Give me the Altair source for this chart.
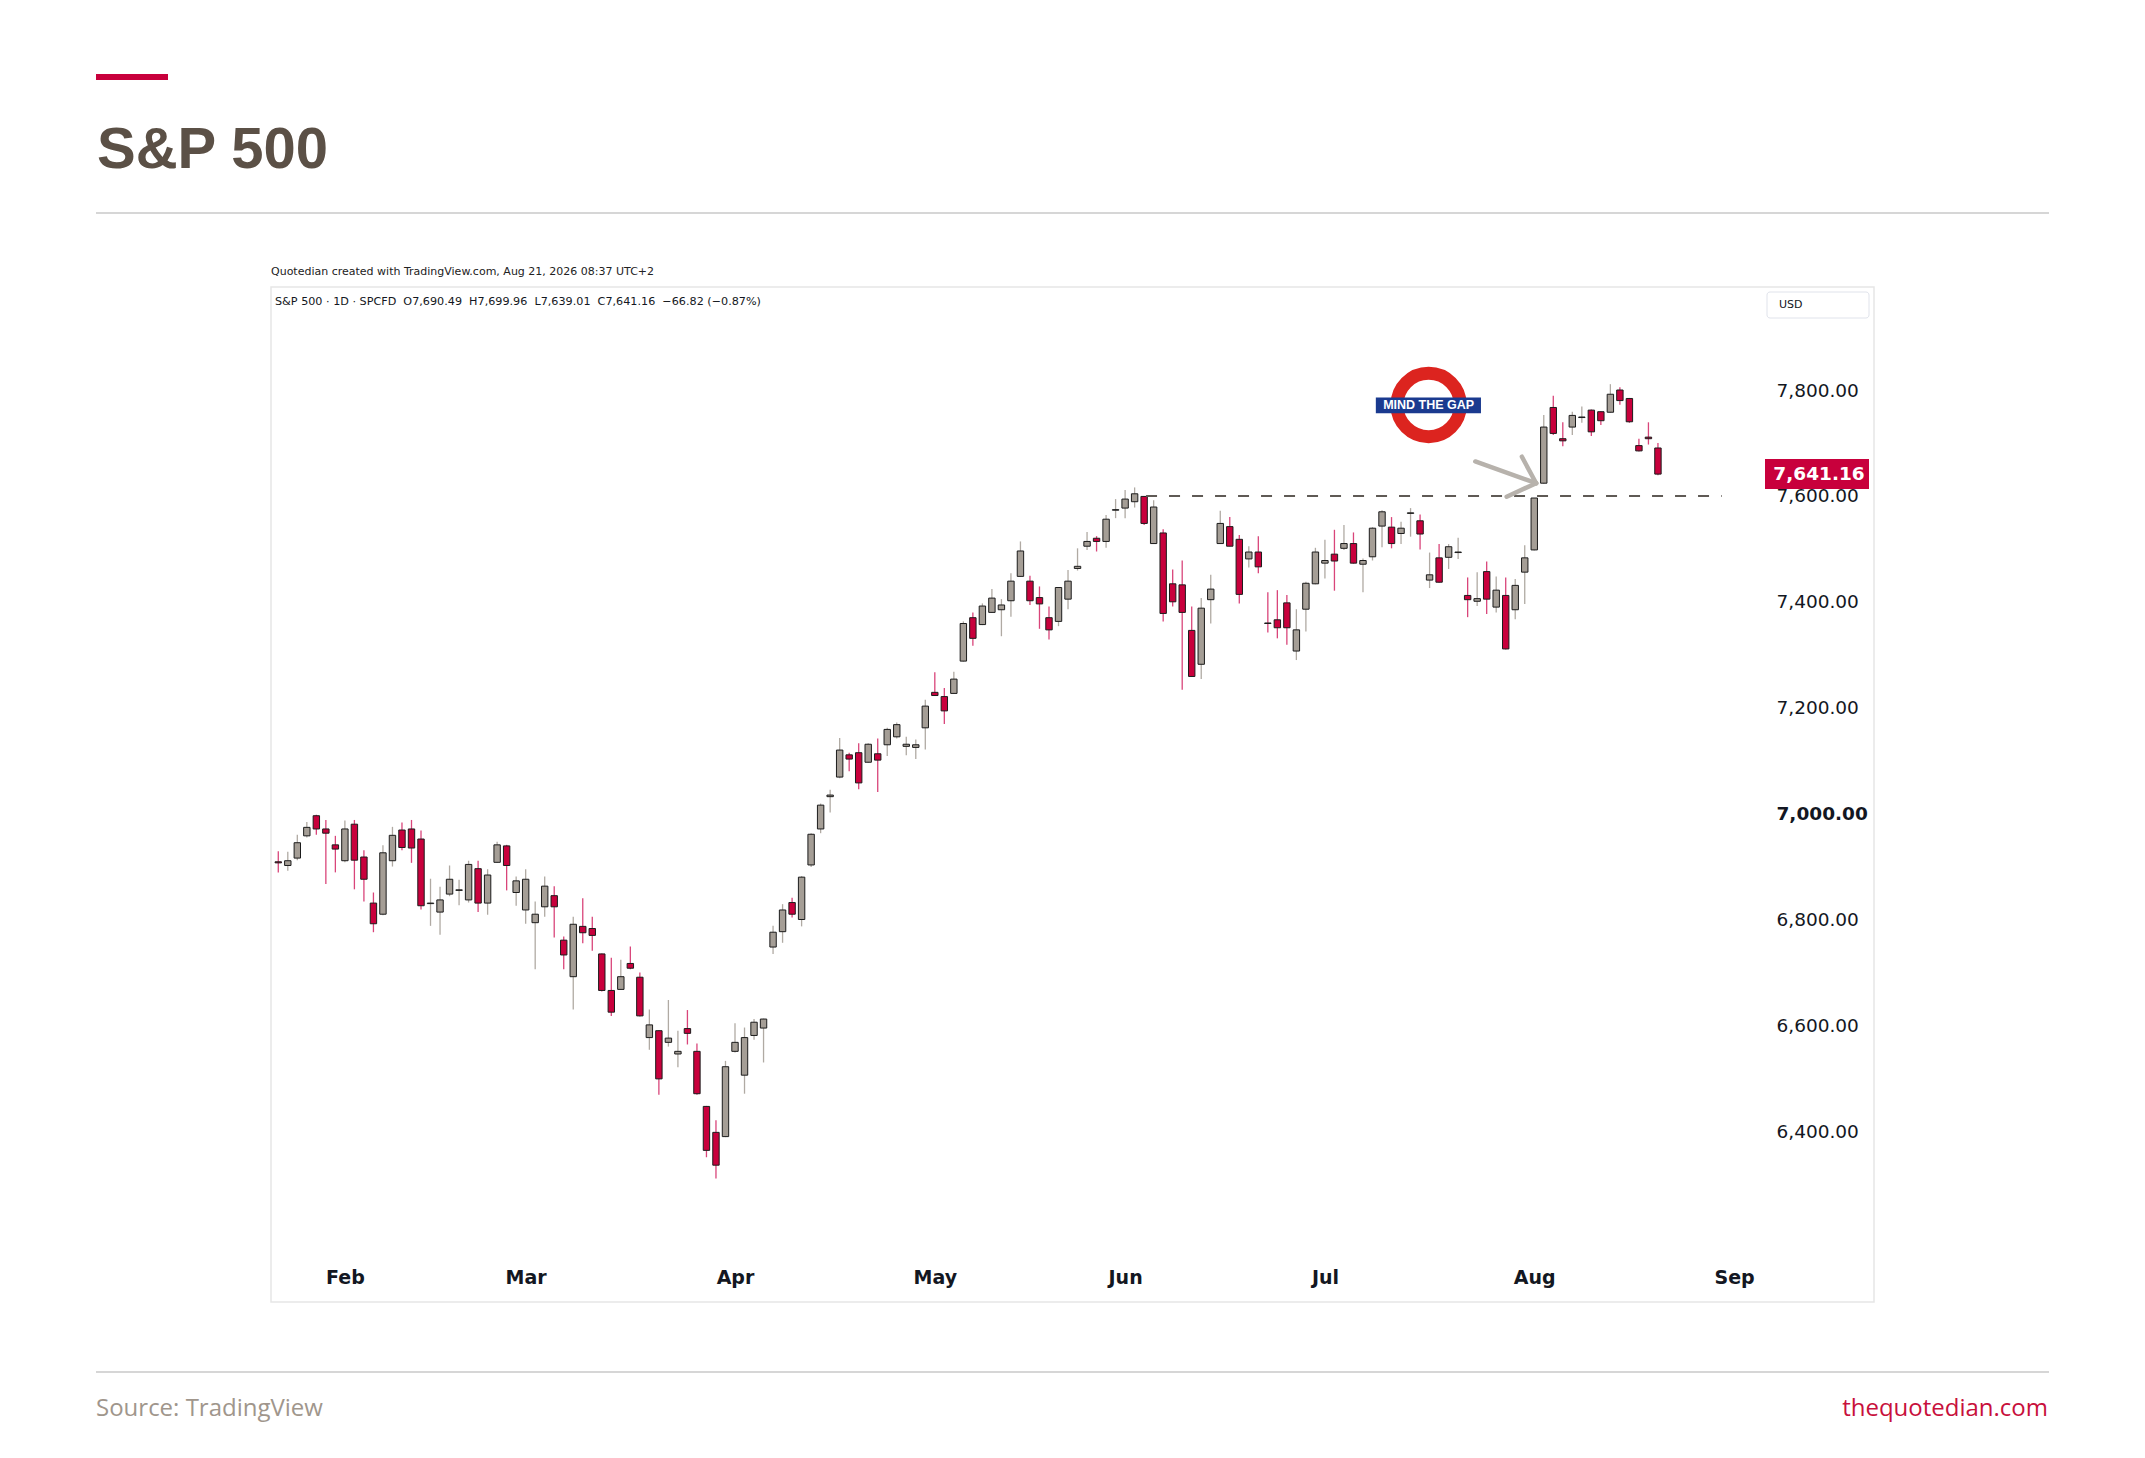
import altair as alt
import pandas as pd

# ---------------- data ----------------
opens = [6909, 6902, 6916, 6958, 6996, 6971, 6941, 6911, 6980, 6918,
         6831, 6810, 6911, 6969, 6971, 6952, 6830, 6814, 6848, 6855,
         6837, 6896, 6831, 6908, 6939, 6851, 6818, 6794, 6824, 6845,
         6761, 6692, 6787, 6783, 6735, 6666, 6668, 6717, 6691, 6577,
         6590, 6568, 6546, 6594, 6551, 6447, 6398, 6390, 6551, 6506,
         6581, 6595, 6748, 6777, 6832, 6800, 6903, 6971, 7032, 7069,
         7111, 7115, 7097, 7113, 7130, 7145, 7127, 7125, 7162, 7229,
         7221, 7227, 7288, 7370, 7357, 7380, 7385, 7402, 7448, 7439,
         7408, 7370, 7363, 7405, 7463, 7505, 7520, 7514, 7573, 7577,
         7589, 7599, 7510, 7530, 7434, 7432, 7346, 7282, 7404, 7510,
         7542, 7518, 7481, 7494, 7360, 7366, 7398, 7307, 7386, 7434,
         7473, 7490, 7501, 7510, 7471, 7485, 7543, 7541, 7529, 7567,
         7553, 7441, 7483, 7484, 7493, 7412, 7401, 7457, 7390, 7412,
         7385, 7456, 7498, 7624, 7767, 7708, 7730, 7748, 7762, 7759,
         7758, 7800, 7784, 7695, 7711, 7690.49]
highs = [6929, 6928, 6960, 6984, 6998, 6988, 6958, 6987, 6988, 6931,
         6851, 6940, 6975, 6983, 6988, 6968, 6877, 6862, 6902, 6875,
         6911, 6911, 6895, 6947, 6941, 6881, 6895, 6834, 6881, 6863,
         6768, 6805, 6840, 6805, 6736, 6728, 6724, 6749, 6700, 6630,
         6591, 6648, 6590, 6629, 6566, 6448, 6421, 6533, 6604, 6596,
         6612, 6613, 6788, 6829, 6841, 6882, 6963, 7019, 7045, 7143,
         7115, 7133, 7133, 7142, 7162, 7172, 7145, 7140, 7215, 7267,
         7237, 7268, 7363, 7380, 7397, 7424, 7405, 7454, 7514, 7449,
         7429, 7391, 7427, 7460, 7501, 7532, 7524, 7564, 7594, 7611,
         7616, 7600, 7592, 7537, 7461, 7478, 7391, 7407, 7451, 7572,
         7560, 7526, 7505, 7524, 7418, 7422, 7413, 7386, 7438, 7502,
         7517, 7536, 7545, 7531, 7482, 7541, 7573, 7560, 7551, 7577,
         7565, 7493, 7509, 7509, 7521, 7446, 7456, 7476, 7448, 7446,
         7443, 7507, 7596, 7753, 7789, 7739, 7759, 7769, 7763, 7760,
         7811, 7805, 7785, 7708, 7739, 7699.96]
lows = [6889, 6892, 6912, 6955, 6960, 6867, 6889, 6908, 6857, 6834,
        6776, 6808, 6900, 6931, 6907, 6819, 6788, 6771, 6844, 6827,
        6832, 6814, 6809, 6907, 6855, 6826, 6792, 6706, 6805, 6766,
        6706, 6630, 6755, 6741, 6664, 6618, 6667, 6706, 6617, 6554,
        6469, 6560, 6521, 6564, 6469, 6351, 6311, 6389, 6549, 6471,
        6573, 6530, 6735, 6756, 6804, 6787, 6899, 6963, 7002, 7067,
        7080, 7046, 7096, 7041, 7109, 7142, 7110, 7103, 7121, 7222,
        7169, 7226, 7287, 7317, 7356, 7379, 7335, 7372, 7447, 7394,
        7349, 7329, 7354, 7386, 7459, 7498, 7495, 7502, 7558, 7558,
        7578, 7545, 7509, 7363, 7391, 7234, 7258, 7254, 7359, 7509,
        7505, 7397, 7465, 7454, 7342, 7331, 7319, 7290, 7344, 7433,
        7444, 7421, 7498, 7472, 7418, 7478, 7503, 7501, 7509, 7523,
        7499, 7426, 7436, 7462, 7481, 7371, 7392, 7377, 7380, 7310,
        7367, 7396, 7497, 7623, 7715, 7694, 7715, 7738, 7713, 7734,
        7757, 7772, 7738, 7684, 7697, 7639.01]
closes = [6907, 6911, 6945, 6974, 6971, 6963, 6933, 6971, 6912, 6876,
          6792, 6926, 6959, 6936, 6935, 6826, 6831, 6837, 6876, 6856,
          6904, 6831, 6884, 6941, 6902, 6873, 6876, 6810, 6863, 6824,
          6733, 6791, 6775, 6770, 6666, 6625, 6692, 6708, 6618, 6601,
          6499, 6576, 6551, 6585, 6471, 6364, 6336, 6522, 6568, 6577,
          6606, 6612, 6776, 6818, 6810, 6880, 6961, 7016, 7035, 7120,
          7103, 7058, 7131, 7101, 7159, 7168, 7131, 7130, 7203, 7223,
          7194, 7254, 7359, 7331, 7392, 7407, 7394, 7439, 7496, 7402,
          7396, 7347, 7427, 7439, 7467, 7514, 7514, 7556, 7574, 7594,
          7604, 7548, 7579, 7378, 7400, 7380, 7259, 7388, 7424, 7548,
          7505, 7414, 7494, 7466, 7359, 7351, 7351, 7347, 7435, 7494,
          7478, 7477, 7510, 7473, 7478, 7539, 7570, 7510, 7539, 7568,
          7528, 7451, 7437, 7504, 7494, 7404, 7406, 7405, 7422, 7311,
          7431, 7483, 7596, 7730, 7718, 7704, 7752, 7749, 7721, 7742,
          7792, 7780, 7740, 7685, 7708, 7641.16]

month_labels = ["Feb", "Mar", "Apr", "May", "Jun", "Jul", "Aug", "Sep"]
month_index = [7, 26, 48, 69, 89, 110, 132, 153]
price_ticks = [6400, 6600, 6800, 7000, 7200, 7400, 7600, 7800]
last_close = 7641.16

# annotations (in bar-index / price coordinates)
gap_level = 7600
gap_start = 91.2
gap_end = 151.7
arrow_x = [125.8, 130.7, 129.1]
arrow_y = [7665, 7674, 7598.5]
arrow_tip_x = [132.2, 132.2, 132.2]
arrow_tip_y = [7624, 7624, 7624]
roundel_x = [120.9]
roundel_y = [7771.7]
sign_x = [115.35]
sign_x2 = [126.4]
sign_y = [7786]
sign_y2 = [7756]

# ---------------- styling ----------------
UP_FILL = "#a59e96"
DOWN_FILL = "#c8003c"
UP_WICK = "#b0aaa3"
DOWN_WICK = "#d9457a"
OUTLINE = "#1c1c1c"
TEXT = "#131722"
NB = "\u00a0"

W, H = 1489, 935
PAD = {"left": 263, "top": 312, "right": 375, "bottom": 185}

df = pd.DataFrame({"i": list(range(len(opens))), "open": opens, "high": highs,
                   "low": lows, "close": closes})

xscale = alt.Scale(domain=[-0.24, 155.2], nice=False, zero=False)
yscale = alt.Scale(domain=[6166.4, 7932.2], nice=False, zero=False)

label_names = "[" + ",".join(f"'{m}'" for m in month_labels) + "]"
label_pos = "[" + ",".join(str(v) for v in month_index) + "]"
xaxis = alt.Axis(values=month_index, orient="bottom", title=None, grid=False,
                 domain=False, ticks=False, labelPadding=13,
                 labelExpr=f"{label_names}[indexof({label_pos}, datum.value)]",
                 labelFont="DejaVu Sans", labelFontSize=19, labelFontWeight="bold",
                 labelColor=TEXT)
yaxis = alt.Axis(values=price_ticks, orient="right", title=None, grid=False,
                 domain=False, ticks=False, labelPadding=16, labelAlign="left",
                 labelExpr="format(datum.value, ',.2f')",
                 labelFont="DejaVu Sans", labelFontSize=18.5,
                 labelFontWeight={"expr": "datum.value == 7000 ? 'bold' : 'normal'"},
                 labelColor=TEXT)


def X(f):
    return alt.X(f, type="quantitative", scale=xscale, axis=xaxis)


def Y(f):
    return alt.Y(f, type="quantitative", scale=yscale, axis=yaxis)


is_up = "datum.close >= datum.open"

wicks = alt.Chart(df).mark_rule(strokeWidth=1.3).encode(
    x=X("i"), y=Y("low"), y2="high",
    color=alt.condition(is_up, alt.value(UP_WICK), alt.value(DOWN_WICK)))

bodies = alt.Chart(df).mark_bar(width=6.4, stroke=OUTLINE, strokeWidth=1).encode(
    x=X("i"), y=Y("open"), y2="close",
    fill=alt.condition(is_up, alt.value(UP_FILL), alt.value(DOWN_FILL)))

gap_df = pd.DataFrame({"x": [gap_start], "x2": [gap_end], "y": [gap_level]})
gap = alt.Chart(gap_df).mark_rule(strokeDash=[11, 12], strokeWidth=2, color="#5f5a55").encode(
    x=X("x"), x2="x2", y=Y("y"))

arrow_df = pd.DataFrame({"x": arrow_x, "y": arrow_y, "x2": arrow_tip_x, "y2": arrow_tip_y})
arrow = alt.Chart(arrow_df).mark_rule(strokeWidth=4.5, color="#b7b2ac", strokeCap="round").encode(
    x=X("x"), y=Y("y"), x2="x2", y2="y2")

ring_df = pd.DataFrame({"x": roundel_x, "y": roundel_y})
ring = alt.Chart(ring_df).mark_point(shape="circle", size=4010, filled=False,
                                     strokeWidth=13, color="#dc241f", opacity=1).encode(
    x=X("x"), y=Y("y"))

sign_df = pd.DataFrame({"x": sign_x, "x2": sign_x2, "y": sign_y, "y2": sign_y2,
                        "xc": roundel_x, "yc": roundel_y, "t": ["MIND THE GAP"]})
sign_bar = alt.Chart(sign_df).mark_rect(color="#1a3a8f").encode(
    x=X("x"), x2="x2", y=Y("y"), y2="y2")
sign_text = alt.Chart(sign_df).mark_text(color="white", font="Liberation Sans", fontWeight="bold",
                                         fontSize=12.5, baseline="middle", align="center").encode(
    x=X("xc"), y=Y("yc"), text="t:N")

tag_df = pd.DataFrame({"y": [last_close], "t": [f"{last_close:,.2f}"]})
tag_box = alt.Chart(tag_df).mark_point(
    shape="M-1,-0.2885L1,-0.2885L1,0.2885L-1,0.2885Z", size=104 * 104,
    filled=True, color="#c8003c", opacity=1, strokeWidth=0).encode(
    x=alt.value(1546), y=Y("y"))
tag_text = alt.Chart(tag_df).mark_text(color="white", font="DejaVu Sans", fontWeight="bold",
                                       fontSize=18.5, align="center", baseline="middle").encode(
    x=alt.value(1548), y=Y("y"), text="t:N")

# ---------------- page furniture ----------------
one = pd.DataFrame({"k": [0]})


def label(text, x, y, **kw):
    return alt.Chart(pd.DataFrame({"t": [text]})).mark_text(**kw).encode(
        x=alt.value(x), y=alt.value(y), text="t:N")


def box(x, x2, y, y2, **kw):
    return alt.Chart(one).mark_rect(**kw).encode(
        x=alt.value(x), x2=alt.value(x2), y=alt.value(y), y2=alt.value(y2))


def hline(x, x2, y, **kw):
    return alt.Chart(one).mark_rule(**kw).encode(
        x=alt.value(x), x2=alt.value(x2), y=alt.value(y))


header_text = (f"S&P 500 · 1D · SPCFD {NB}O7,690.49 {NB}H7,699.96 {NB}L7,639.01 "
               f"{NB}C7,641.16 {NB}−66.82 (−0.87%)")

accent = box(-175, -103, -246, -240, color="#c8003c")
title = label("S&P 500", -174, -152, font="Liberation Sans", fontWeight="bold",
              fontSize=58, color="#5b5046", align="left", baseline="alphabetic")
top_rule = hline(-175, 1778, -107, color="#d6d6d6", strokeWidth=2)
frame = box(0, 1603, -33, 982, fill="white", fillOpacity=0, stroke="#e6e6e6", strokeWidth=1.5)
credit = label("Quotedian created with TradingView.com, Aug 21, 2026 08:37 UTC+2", 0, -48,
               font="DejaVu Sans", fontSize=11, color="#222222", align="left",
               baseline="middle")
header = label(header_text, 4, -18, font="DejaVu Sans", fontSize=11.2, color=TEXT,
               align="left", baseline="middle")
usd_box = box(1496, 1598, -28, -2, fill="white", stroke="#e0e3eb", strokeWidth=1, cornerRadius=3)
usd = label("USD", 1508, -15, font="DejaVu Sans", fontSize=11, color=TEXT, align="left",
            baseline="middle")
bottom_rule = hline(-175, 1778, 1052, color="#d6d6d6", strokeWidth=2)
source = label("Source: TradingView", -175, 1089, font="Open Sans", fontSize=24,
               color="#a0968c", align="left", baseline="middle")
site = label("thequotedian.com", 1777, 1089, font="Open Sans", fontSize=24,
             color="#c8103c", align="right", baseline="middle")

chart = alt.layer(
    frame, wicks, bodies, gap, arrow, ring, sign_bar, sign_text, tag_box, tag_text,
    accent, title, top_rule, credit, header, usd_box, usd, bottom_rule, source, site
).properties(
    width=W, height=H, padding=PAD,
    autosize=alt.AutoSizeParams(type="none"),
    background="white"
).configure_view(stroke=None)

chart.save("out.html", embed_options={"renderer": "svg", "actions": False})
